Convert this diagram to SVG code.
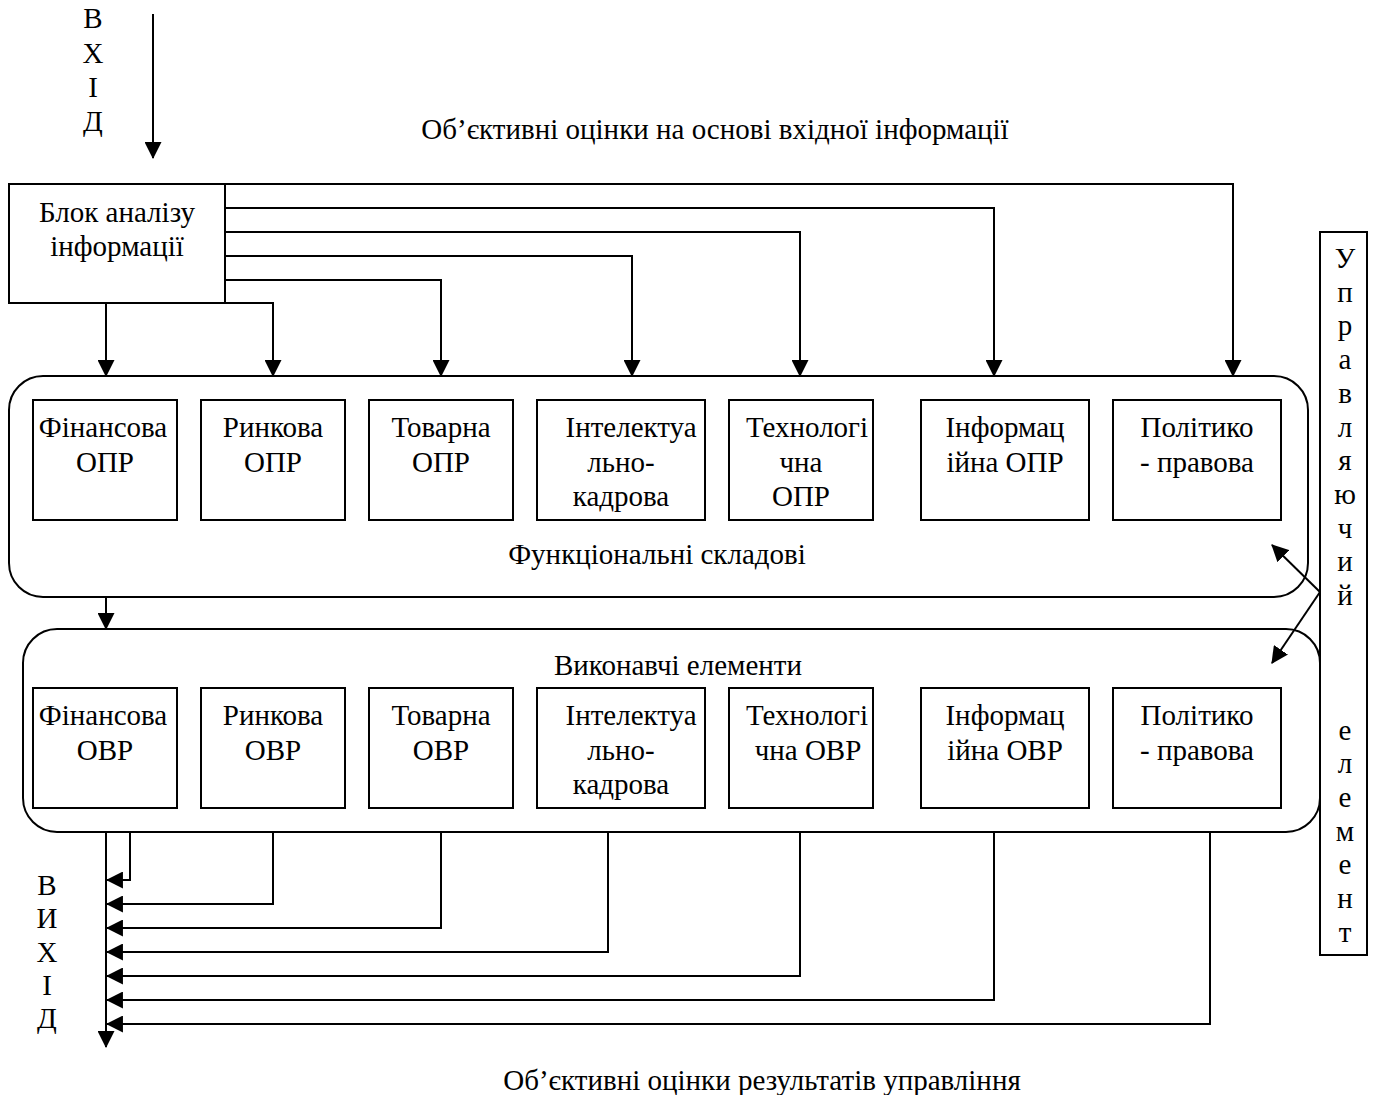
<svg xmlns="http://www.w3.org/2000/svg" width="1374" height="1095" viewBox="0 0 1374 1095">
<style>
text{font-family:"Liberation Serif","Times New Roman",serif;font-size:29px;fill:#000;text-anchor:middle}
.v{font-size:29px}
.box{fill:#fff;stroke:#000;stroke-width:2}
.grp{fill:none;stroke:#000;stroke-width:2}
.c{fill:none;stroke:#000;stroke-width:2}
</style>
<defs>
<marker id="ah" viewBox="0 0 16 16" refX="15" refY="8" markerWidth="17" markerHeight="17" markerUnits="userSpaceOnUse" orient="auto">
<path d="M0,0 L16,8 L0,16 z" fill="#000"/>
</marker>
</defs>
<rect width="1374" height="1095" fill="#fff"/>

<g id="input-label">
<text class="v" x="93" y="28">В</text>
<text class="v" x="93" y="63">Х</text>
<text class="v" x="93" y="97">І</text>
<text class="v" x="93" y="131">Д</text>
</g>
<text id="top-caption" x="715" y="139">Об’єктивні оцінки на основі вхідної інформації</text>

<g id="analysis-block">
<rect class="box" x="9" y="184" width="216" height="119"/>
<text x="117" y="222">Блок аналізу</text>
<text x="117" y="256">інформації</text>
</g>

<g id="functional-group">
<rect class="grp" x="9" y="376" width="1299" height="221" rx="34" ry="34"/>
<text x="657" y="564">Функціональні складові</text>
</g>
<g id="f1"><rect class="box" x="33" y="400" width="144" height="120"/><text x="103" y="437">Фінансова</text><text x="105" y="472">ОПР</text></g>
<g id="f2"><rect class="box" x="201" y="400" width="144" height="120"/><text x="273" y="437">Ринкова</text><text x="273" y="472">ОПР</text></g>
<g id="f3"><rect class="box" x="369" y="400" width="144" height="120"/><text x="441" y="437">Товарна</text><text x="441" y="472">ОПР</text></g>
<g id="f4"><rect class="box" x="537" y="400" width="168" height="120"/><text x="631" y="437">Інтелектуа</text><text x="621" y="472">льно-</text><text x="621" y="506">кадрова</text></g>
<g id="f5"><rect class="box" x="729" y="400" width="144" height="120"/><text x="807" y="437">Технологі</text><text x="801" y="472">чна</text><text x="801" y="506">ОПР</text></g>
<g id="f6"><rect class="box" x="921" y="400" width="168" height="120"/><text x="1005" y="437">Інформац</text><text x="1005" y="472">ійна ОПР</text></g>
<g id="f7"><rect class="box" x="1113" y="400" width="168" height="120"/><text x="1197" y="437">Політико</text><text x="1197" y="472">- правова</text></g>

<g id="executive-group">
<rect class="grp" x="23" y="629" width="1297" height="203" rx="34" ry="34"/>
<text x="678" y="675">Виконавчі елементи</text>
</g>
<g id="e1"><rect class="box" x="33" y="688" width="144" height="120"/><text x="103" y="725">Фінансова</text><text x="105" y="760">ОВР</text></g>
<g id="e2"><rect class="box" x="201" y="688" width="144" height="120"/><text x="273" y="725">Ринкова</text><text x="273" y="760">ОВР</text></g>
<g id="e3"><rect class="box" x="369" y="688" width="144" height="120"/><text x="441" y="725">Товарна</text><text x="441" y="760">ОВР</text></g>
<g id="e4"><rect class="box" x="537" y="688" width="168" height="120"/><text x="631" y="725">Інтелектуа</text><text x="621" y="760">льно-</text><text x="621" y="794">кадрова</text></g>
<g id="e5"><rect class="box" x="729" y="688" width="144" height="120"/><text x="807" y="725">Технологі</text><text x="808" y="760">чна ОВР</text></g>
<g id="e6"><rect class="box" x="921" y="688" width="168" height="120"/><text x="1005" y="725">Інформац</text><text x="1005" y="760">ійна ОВР</text></g>
<g id="e7"><rect class="box" x="1113" y="688" width="168" height="120"/><text x="1197" y="725">Політико</text><text x="1197" y="760">- правова</text></g>

<g id="control-element">
<rect class="box" x="1320" y="232" width="47" height="723"/>
<text class="v" x="1345" y="268">У</text>
<text class="v" x="1345" y="302">п</text>
<text class="v" x="1345" y="335">р</text>
<text class="v" x="1345" y="369">а</text>
<text class="v" x="1345" y="403">в</text>
<text class="v" x="1345" y="437">л</text>
<text class="v" x="1345" y="470">я</text>
<text class="v" x="1345" y="504">ю</text>
<text class="v" x="1345" y="538">ч</text>
<text class="v" x="1345" y="571">и</text>
<text class="v" x="1345" y="605">й</text>
<text class="v" x="1345" y="740">е</text>
<text class="v" x="1345" y="773">л</text>
<text class="v" x="1345" y="807">е</text>
<text class="v" x="1345" y="841">м</text>
<text class="v" x="1345" y="874">е</text>
<text class="v" x="1345" y="908">н</text>
<text class="v" x="1345" y="942">т</text>
</g>

<g id="output-label">
<text class="v" x="47" y="895">В</text>
<text class="v" x="47" y="928">И</text>
<text class="v" x="47" y="962">Х</text>
<text class="v" x="47" y="995">І</text>
<text class="v" x="47" y="1028">Д</text>
</g>
<text id="bottom-caption" x="762" y="1090">Об’єктивні оцінки результатів управління</text>

<g id="connectors">
<path class="c" d="M153,14 V158" marker-end="url(#ah)"/>
<path class="c" d="M225,184 H1233 V376" marker-end="url(#ah)"/>
<path class="c" d="M225,208 H994 V376" marker-end="url(#ah)"/>
<path class="c" d="M225,232 H800 V376" marker-end="url(#ah)"/>
<path class="c" d="M225,256 H632 V376" marker-end="url(#ah)"/>
<path class="c" d="M225,280 H441 V376" marker-end="url(#ah)"/>
<path class="c" d="M225,303 H273 V376" marker-end="url(#ah)"/>
<path class="c" d="M106,303 V376" marker-end="url(#ah)"/>
<path class="c" d="M106,597 V629" marker-end="url(#ah)"/>
<path class="c" d="M1320,592 L1272,545" marker-end="url(#ah)"/>
<path class="c" d="M1320,592 L1272,663" marker-end="url(#ah)"/>
<path class="c" d="M106,832 V1047" marker-end="url(#ah)"/>
<path class="c" d="M130,832 V880 H107" marker-end="url(#ah)"/>
<path class="c" d="M273,832 V904 H107" marker-end="url(#ah)"/>
<path class="c" d="M441,832 V928 H107" marker-end="url(#ah)"/>
<path class="c" d="M608,832 V952 H107" marker-end="url(#ah)"/>
<path class="c" d="M800,832 V976 H107" marker-end="url(#ah)"/>
<path class="c" d="M994,832 V1000 H107" marker-end="url(#ah)"/>
<path class="c" d="M1210,832 V1024 H107" marker-end="url(#ah)"/>
</g>
</svg>
